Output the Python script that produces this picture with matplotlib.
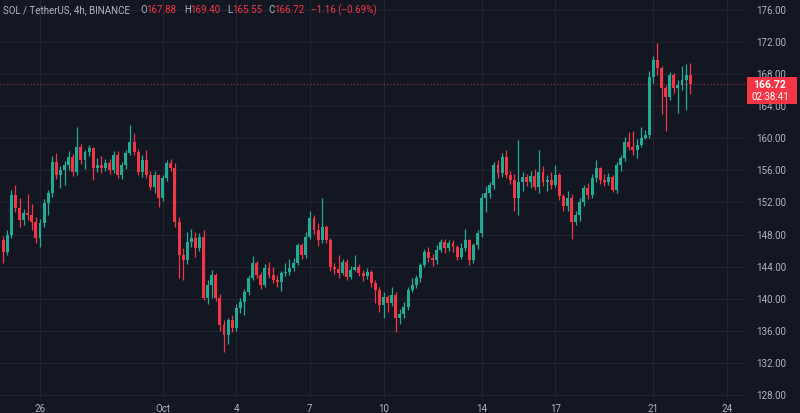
import matplotlib
matplotlib.use('Agg')
import matplotlib.pyplot as plt
import matplotlib.dates as mdates
from matplotlib.patches import Rectangle
import pandas as pd
import numpy as np

# SOL/USDT 4h candles, Sep 24 12:00 -> Oct 22 12:00
first_open = 147.32
closes = [
    145.83, 147.94, 152.93, 151.31, 149.82, 150.69, 150.44, 149.57, 147.57, 149.44,
    151.94, 153.18, 157.05, 155.43, 156.05, 156.67, 157.67, 155.80, 158.92, 157.30,
    158.29, 158.79, 156.30, 156.67, 156.30, 156.92, 156.05, 157.92, 155.43, 156.67,
    158.17, 159.54, 158.29, 155.80, 157.30, 155.43, 153.93, 155.43, 152.56, 155.05,
    156.92, 156.30, 149.57, 145.45, 144.83, 147.07, 147.57, 146.33, 147.70, 140.09,
    141.71, 142.96, 140.09, 136.72, 135.47, 137.35, 136.35, 138.84, 139.59, 140.84,
    142.58, 144.45, 142.96, 141.71, 143.83, 142.96, 142.33, 142.08, 143.21, 143.33,
    143.83, 144.45, 146.70, 145.45, 147.70, 150.06, 148.57, 147.32, 148.94, 147.32,
    143.95, 143.70, 143.21, 144.58, 142.71, 143.58, 143.95, 143.21, 142.83, 143.33,
    141.96, 141.09, 139.22, 140.21, 139.47, 140.46, 137.59, 138.09, 138.97, 141.09,
    141.71, 142.58, 144.20, 145.83, 145.08, 144.83, 146.08, 147.07, 146.33, 146.95,
    146.45, 145.20, 146.33, 147.32, 144.83, 146.70, 148.19, 152.56, 153.18, 154.18,
    156.67, 155.68, 157.67, 155.43, 154.80, 152.56, 154.55, 155.18, 154.55, 155.30,
    153.93, 155.80, 154.55, 154.80, 154.18, 155.43, 152.81, 151.56, 152.56, 149.57,
    150.44, 152.06, 153.81, 152.93, 155.05, 156.30, 154.80, 154.55, 155.18, 153.56,
    156.67, 157.55, 159.54, 158.92, 158.54, 159.17, 160.04, 160.41, 167.65, 169.77,
    168.77, 166.27, 165.15, 167.90, 166.27, 166.65, 167.27, 167.88, 166.72,
]
highs = [
    147.8, 148.6, 153.6, 154.2, 152.6, 151.2, 153.0, 151.8, 150.2, 150.0,
    152.4, 153.6, 157.8, 158.2, 156.6, 157.2, 158.4, 158.0, 161.4, 159.3,
    158.6, 159.2, 158.9, 157.6, 157.8, 157.4, 157.4, 158.4, 158.4, 157.0,
    158.6, 161.6, 160.7, 158.7, 157.9, 158.6, 155.9, 155.9, 155.6, 155.4,
    157.3, 157.4, 156.9, 150.2, 146.3, 148.3, 148.7, 148.3, 148.2, 148.6,
    142.3, 143.6, 143.2, 140.6, 137.4, 137.6, 138.0, 139.3, 140.1, 141.2,
    142.9, 145.3, 144.7, 143.3, 144.3, 144.6, 143.9, 142.9, 143.5, 144.4,
    144.9, 145.1, 146.9, 146.9, 148.3, 151.0, 150.5, 149.5, 152.6, 149.2,
    147.6, 144.5, 145.4, 145.0, 145.0, 144.1, 145.4, 144.3, 143.6, 143.8,
    143.6, 142.3, 141.4, 140.8, 140.5, 141.4, 140.9, 138.7, 139.6, 141.4,
    142.6, 142.9, 144.5, 146.2, 146.4, 145.6, 146.7, 147.4, 147.4, 147.3,
    147.3, 146.7, 147.0, 148.7, 147.5, 146.9, 148.6, 153.2, 154.0, 154.5,
    157.0, 157.3, 158.2, 158.5, 155.9, 155.5, 159.8, 155.8, 155.6, 155.9,
    156.2, 158.5, 156.6, 155.4, 155.8, 156.7, 155.7, 153.1, 153.4, 153.0,
    151.0, 152.6, 154.2, 154.4, 155.6, 157.3, 156.4, 155.5, 155.7, 155.4,
    157.0, 157.9, 160.2, 160.8, 160.9, 159.9, 161.4, 161.0, 168.4, 170.3,
    171.9, 169.0, 166.6, 168.3, 168.2, 167.3, 169.0, 169.3, 169.40,
]
lows = [
    144.4, 145.4, 147.6, 150.8, 148.9, 149.2, 149.8, 148.6, 147.0, 146.5,
    149.0, 150.4, 152.7, 154.9, 153.8, 154.2, 156.0, 155.3, 155.4, 156.8,
    156.2, 157.8, 154.8, 155.8, 155.7, 155.9, 155.6, 155.7, 155.0, 154.9,
    156.2, 157.9, 157.9, 155.4, 155.2, 155.0, 153.5, 153.2, 151.4, 152.2,
    154.7, 155.9, 149.0, 142.6, 142.3, 144.3, 146.5, 145.2, 145.9, 139.8,
    139.3, 140.1, 139.7, 136.0, 133.3, 134.3, 135.9, 136.0, 138.2, 138.0,
    140.5, 142.3, 142.6, 141.2, 141.4, 142.6, 141.9, 141.5, 141.0, 142.8,
    143.0, 143.5, 144.2, 145.0, 145.1, 147.4, 148.1, 146.6, 146.9, 146.9,
    143.4, 143.1, 142.6, 142.9, 142.3, 142.4, 143.4, 142.8, 142.2, 142.4,
    141.5, 139.5, 138.4, 137.6, 138.3, 139.1, 135.8, 136.8, 137.6, 138.6,
    140.8, 141.3, 142.1, 143.9, 144.6, 144.1, 144.3, 145.8, 145.7, 145.9,
    145.8, 144.8, 145.0, 145.9, 144.2, 144.5, 146.2, 147.7, 150.8, 152.6,
    153.7, 155.0, 155.2, 155.0, 154.3, 150.9, 150.4, 153.4, 154.0, 153.8,
    153.5, 153.2, 154.0, 153.4, 153.7, 153.9, 152.3, 151.0, 151.0, 147.5,
    149.2, 149.7, 151.6, 152.4, 152.6, 154.6, 154.3, 154.0, 154.2, 153.3,
    153.2, 155.9, 157.2, 158.5, 157.9, 157.6, 158.9, 159.9, 160.1, 166.9,
    167.9, 163.0, 160.9, 164.8, 165.6, 163.2, 166.0, 163.5, 165.55,
]
opens = [first_open] + closes[:-1]

tick_dates = ['2024-09-26', '2024-10-01', '2024-10-04', '2024-10-07', '2024-10-10',
              '2024-10-14', '2024-10-17', '2024-10-21', '2024-10-24']
tick_labels = ['26', 'Oct', '4', '7', '10', '14', '17', '21', '24']
price_ticks = [128, 132, 136, 140, 144, 148, 152, 156, 160, 164, 168, 172, 176]

BG = '#131722'
GRID = '#1f2430'
TEXT = '#b2b5be'
UP = '#22ab94'
DOWN = '#f23645'

times = pd.date_range('2024-09-24 12:00', periods=len(closes), freq='4h')
x = mdates.date2num(times)
o = np.array(opens)
c = np.array(closes)
h = np.array(highs)
l = np.array(lows)
cols = np.where(c >= o, UP, DOWN)

fig = plt.figure(figsize=(8, 4.13), dpi=100, facecolor=BG)
ax = fig.add_axes([0, 15 / 413, 745 / 800, 398 / 413])
ax.set_facecolor(BG)

day0 = mdates.date2num(pd.Timestamp('2024-09-26'))
px_day = (727 - 40) / 28
ax.set_xlim(day0 - 40 / px_day, day0 + 705 / px_day)
ax.set_ylim(176 - 388 / 8.02, 176 + 10 / 8.02)

# candles
ax.vlines(x, l, h, colors=cols, linewidth=0.9, zorder=3)
body = np.where(np.abs(c - o) < 0.08, 0.08, c - o)
ax.bar(x, body, bottom=o, width=0.12, color=cols, linewidth=0, zorder=4)

# last price line
ax.axhline(closes[-1], color=DOWN, linestyle=(0, (1, 2)), linewidth=0.8, alpha=0.7, zorder=2)

ax.set_xticks(mdates.date2num(pd.to_datetime(tick_dates)))
ax.set_xticklabels(tick_labels)
ax.set_yticks(price_ticks)
ax.set_yticklabels([f'{p:.2f}' for p in price_ticks])
ax.yaxis.tick_right()
ax.tick_params(axis='both', length=0, colors=TEXT, labelsize=7)
ax.tick_params(axis='y', pad=8)
ax.tick_params(axis='x', pad=4)
for lab in ax.get_xticklabels() + ax.get_yticklabels():
    lab.set_fontfamily('Roboto')
ax.grid(True, color=GRID, linewidth=0.8)
ax.set_axisbelow(True)
for s in ax.spines.values():
    s.set_visible(False)

# legend line at top left
ty = 1 - 10 / 413
fig.text(3 / 800, ty, 'SOL / TetherUS, 4h, BINANCE', color=TEXT, fontsize=7,
         family='Roboto', va='center')
parts = [(140, 'O', TEXT), (146, '167.88', DOWN), (184, 'H', TEXT), (190, '169.40', DOWN),
         (227, 'L', TEXT), (232, '165.55', DOWN), (268, 'C', TEXT), (274, '166.72', DOWN),
         (311, '\u22121.16 (\u22120.69%)', DOWN)]
for px, s, col in parts:
    fig.text(px / 800, ty, s, color=col, fontsize=7, family='Roboto', va='center')

# last price tag
tag = Rectangle((747 / 800, 1 - 104 / 413), 50 / 800, 27 / 413, transform=fig.transFigure,
                facecolor=DOWN, edgecolor='none', zorder=10)
fig.add_artist(tag)
fig.text(753 / 800, 1 - 85 / 413, '166.72', color='white', fontsize=7.5, weight='bold',
         family='Roboto', va='center', zorder=11)
fig.text(752 / 800, 1 - 97 / 413, '02:38:41', color='white', fontsize=7,
         family='Roboto', va='center', zorder=11)

fig.savefig('out.png', dpi=100, facecolor=BG)
